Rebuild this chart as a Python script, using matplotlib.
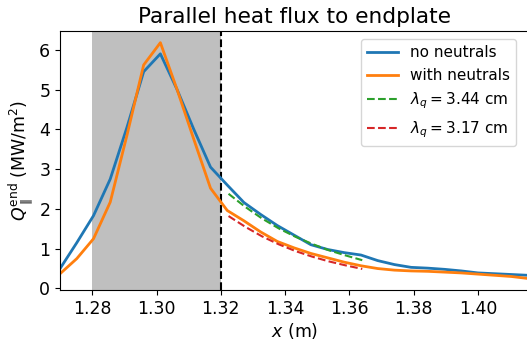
import numpy as np
import matplotlib
matplotlib.use('Agg')
import matplotlib.pyplot as plt

# radial position (m)
x = [1.2700, 1.2752, 1.2804, 1.2856, 1.2908, 1.2960, 1.3012, 1.3064, 1.3116, 1.3168,
     1.3220, 1.3272, 1.3324, 1.3376, 1.3428, 1.3480, 1.3532, 1.3584, 1.3636, 1.3688,
     1.3740, 1.3792, 1.3844, 1.3896, 1.3948, 1.4000, 1.4052, 1.4104, 1.4156, 1.4208]

# parallel heat flux to endplate (MW/m^2)
q_no_neutrals = [0.50, 1.15, 1.83, 2.75, 4.05, 5.45, 5.90, 5.00, 4.00, 3.05,
                 2.60, 2.16, 1.86, 1.58, 1.34, 1.10, 0.98, 0.90, 0.84, 0.70,
                 0.60, 0.53, 0.51, 0.48, 0.44, 0.39, 0.37, 0.35, 0.33, 0.31]
q_with_neutrals = [0.37, 0.75, 1.25, 2.17, 3.85, 5.62, 6.18, 5.00, 3.75, 2.52,
                   1.96, 1.70, 1.42, 1.18, 1.02, 0.88, 0.77, 0.66, 0.57, 0.50,
                   0.46, 0.44, 0.43, 0.41, 0.39, 0.36, 0.33, 0.30, 0.25, 0.27]

# exponential fits in the SOL
x_fit = [1.3224, 1.3276, 1.3328, 1.3380, 1.3432, 1.3484, 1.3536, 1.3588, 1.3640]
fit_no_neutrals = [2.38, 2.05, 1.76, 1.51, 1.30, 1.12, 0.96, 0.83, 0.71]
fit_with_neutrals = [1.82, 1.55, 1.31, 1.11, 0.94, 0.80, 0.68, 0.58, 0.49]

x_core = (1.28, 1.32)
x_sep = 1.32

fig = plt.figure(figsize=(5.27, 3.40), dpi=100)
ax = fig.add_axes([0.114, 0.147, 0.89, 0.762])

ax.axvspan(x_core[0], x_core[1], color='gray', alpha=0.5, lw=0)
ax.axvline(x_sep, color='black', ls='--', lw=1.5)
ax.plot(x, q_no_neutrals, color='C0', lw=2, label='no neutrals')
ax.plot(x, q_with_neutrals, color='C1', lw=2, label='with neutrals')
ax.plot(x_fit, fit_no_neutrals, color='C2', ls='--', lw=1.5,
        label=r'$\lambda_q = 3.44$ cm')
ax.plot(x_fit, fit_with_neutrals, color='C3', ls='--', lw=1.5,
        label=r'$\lambda_q = 3.17$ cm')

ax.set_xlim(1.27, 1.4159)
ax.set_ylim(-0.04, 6.475)
ax.set_xticks([1.28, 1.30, 1.32, 1.34, 1.36, 1.38, 1.40])
ax.set_yticks([0, 1, 2, 3, 4, 5, 6])
ax.tick_params(labelsize=12.5)

ax.set_xlabel(r'$x$ (m)', fontsize=12.5, labelpad=2)
ax.set_ylabel(r'$Q_{\parallel}^{\mathrm{end}}$ (MW/m$^2$)', fontsize=12.5, labelpad=2)
ax.set_title('Parallel heat flux to endplate', fontsize=15.6)
ax.legend(loc='upper right', bbox_to_anchor=(0.99, 1.0), fontsize=11,
          borderaxespad=0.55)

fig.savefig('out.png', dpi=100)
